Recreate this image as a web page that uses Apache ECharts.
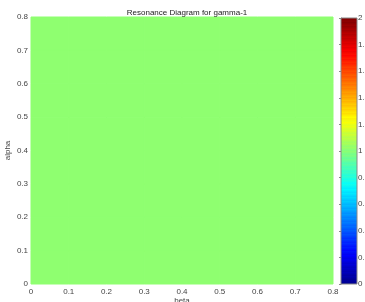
<!DOCTYPE html>
<html>
<head>
<meta charset="utf-8">
<script src="https://cdn.jsdelivr.net/npm/echarts@6/dist/echarts.min.js"></script>
<style>
  html, body { margin: 0; padding: 0; background: #fff; }
  #chart { width: 365px; height: 302px; }
</style>
</head>
<body>
<div id="chart"></div>
<script>
// cell edges of the resonance grid
var betaEdges = [0, 0.1, 0.2, 0.3, 0.4, 0.5, 0.6, 0.7, 0.8];
var alphaEdges = [0, 0.1, 0.2, 0.3, 0.4, 0.5, 0.6, 0.7, 0.8];
// gamma-1 values, rows = alpha, cols = beta
var gammaValues = [
  [1, 1, 1, 1, 1, 1, 1, 1],
  [1, 1, 1, 1, 1, 1, 1, 1],
  [1, 1, 1, 1, 1, 1, 1, 1],
  [1, 1, 1, 1, 1, 1, 1, 1],
  [1, 1, 1, 1, 1, 1, 1, 1],
  [1, 1, 1, 1, 1, 1, 1, 1],
  [1, 1, 1, 1, 1, 1, 1, 1],
  [1, 1, 1, 1, 1, 1, 1, 1]
];
var colorMin = 0;
var colorMax = 2;
var axisTicks = [0, 0.1, 0.2, 0.3, 0.4, 0.5, 0.6, 0.7, 0.8];
var colorbarTicks = [0, 0.2, 0.4, 0.6, 0.8, 1, 1.2, 1.4, 1.6, 1.8, 2];

// matlab jet(64)
function jetMap(m) {
  var n = Math.ceil(m / 4);
  var u = [];
  var i;
  for (i = 1; i <= n; i++) u.push(i / n);
  for (i = 1; i < n; i++) u.push(1);
  for (i = n; i >= 1; i--) u.push(i / n);
  var off = Math.ceil(n / 2) - (m % 4 === 1 ? 1 : 0);
  var rows = [];
  for (i = 0; i < m; i++) rows.push([0, 0, 0]);
  for (var k = 0; k < u.length; k++) {
    var g = off + k + 1;
    var r = g + n;
    var b = g - n;
    if (r >= 1 && r <= m) rows[r - 1][0] = u[k];
    if (g >= 1 && g <= m) rows[g - 1][1] = u[k];
    if (b >= 1 && b <= m) rows[b - 1][2] = u[k];
  }
  return rows.map(function (c) {
    return 'rgb(' + Math.round(c[0] * 255) + ',' + Math.round(c[1] * 255) + ',' + Math.round(c[2] * 255) + ')';
  });
}
var jet = jetMap(64);

function colorOf(v) {
  var idx = Math.floor((v - colorMin) / (colorMax - colorMin) * jet.length);
  idx = Math.max(0, Math.min(jet.length - 1, idx));
  return jet[idx];
}

var cells = [];
for (var a = 0; a < alphaEdges.length - 1; a++) {
  for (var b = 0; b < betaEdges.length - 1; b++) {
    cells.push([betaEdges[b], betaEdges[b + 1], alphaEdges[a], alphaEdges[a + 1], gammaValues[a][b]]);
  }
}

// stepped gradient for the colorbar (bottom -> top)
var stops = [];
jet.forEach(function (c, i) {
  stops.push({offset: 1 - i / jet.length, color: c});
  stops.push({offset: 1 - (i + 1) / jet.length, color: c});
});

var labelStyle = {color: '#444', fontSize: 8, fontFamily: 'Liberation Sans, Arial, sans-serif'};

var chart = echarts.init(document.getElementById('chart'), null, {renderer: 'canvas'});
chart.setOption({
  animation: false,
  title: {
    text: 'Resonance Diagram for gamma-1',
    left: 182,
    textAlign: 'center',
    top: 4,
    textStyle: {color: '#222', fontSize: 8, fontWeight: 'normal', fontFamily: 'Liberation Sans, Arial, sans-serif'}
  },
  grid: [
    {left: 31, right: 32, top: 17, bottom: 18, outerBoundsMode: 'none', containLabel: false},
    {left: 341, width: 16, top: 18, bottom: 18, outerBoundsMode: 'none', containLabel: false}
  ],
  xAxis: [{
    gridIndex: 0,
    type: 'value',
    min: 0, max: 0.8, interval: 0.1,
    name: 'beta',
    nameLocation: 'middle',
    nameGap: 13,
    nameMoveOverlap: false,
    nameTextStyle: labelStyle,
    axisLine: {show: false},
    axisTick: {show: false},
    splitLine: {show: false},
    axisLabel: Object.assign({margin: 4, formatter: function (v) {
      return axisTicks.indexOf(+v.toFixed(1)) >= 0 ? String(+v.toFixed(1)) : '';
    }}, labelStyle)
  }, {
    gridIndex: 1,
    type: 'value',
    min: 0, max: 1,
    show: false
  }],
  yAxis: [{
    gridIndex: 0,
    type: 'value',
    min: 0, max: 0.8, interval: 0.1,
    name: 'alpha',
    nameLocation: 'middle',
    nameRotate: 90,
    nameGap: 19,
    nameMoveOverlap: false,
    nameTextStyle: labelStyle,
    axisLine: {show: false},
    axisTick: {show: false},
    splitLine: {show: false},
    axisLabel: Object.assign({margin: 3, formatter: function (v) {
      return String(+v.toFixed(1));
    }}, labelStyle)
  }, {
    gridIndex: 1,
    type: 'value',
    position: 'right',
    min: colorMin, max: colorMax, interval: 0.2,
    axisLine: {show: true, lineStyle: {color: '#888', width: 1}},
    axisTick: {show: true, inside: true, length: 2, lineStyle: {color: '#888'}},
    splitLine: {show: false},
    axisLabel: Object.assign({margin: 1, overflow: 'none', width: 40, formatter: function (v) {
      return String(+v.toFixed(1));
    }}, labelStyle)
  }],
  series: [{
    type: 'custom',
    xAxisIndex: 0,
    yAxisIndex: 0,
    data: cells,
    renderItem: function (params, api) {
      var p0 = api.coord([api.value(0), api.value(2)]);
      var p1 = api.coord([api.value(1), api.value(3)]);
      var c = colorOf(api.value(4));
      return {
        type: 'rect',
        shape: {x: p0[0], y: p1[1], width: p1[0] - p0[0], height: p0[1] - p1[1]},
        style: {fill: c, stroke: c, lineWidth: 1}
      };
    }
  }, {
    type: 'custom',
    xAxisIndex: 1,
    yAxisIndex: 1,
    data: [[0, 1, colorMin, colorMax]],
    renderItem: function (params, api) {
      var p0 = api.coord([api.value(0), api.value(2)]);
      var p1 = api.coord([api.value(1), api.value(3)]);
      return {
        type: 'rect',
        shape: {x: p0[0], y: p1[1], width: p1[0] - p0[0], height: p0[1] - p1[1]},
        style: {
          fill: new echarts.graphic.LinearGradient(0, 0, 0, 1, stops),
          stroke: '#888',
          lineWidth: 1
        }
      };
    }
  }]
});
</script>
</body>
</html>
